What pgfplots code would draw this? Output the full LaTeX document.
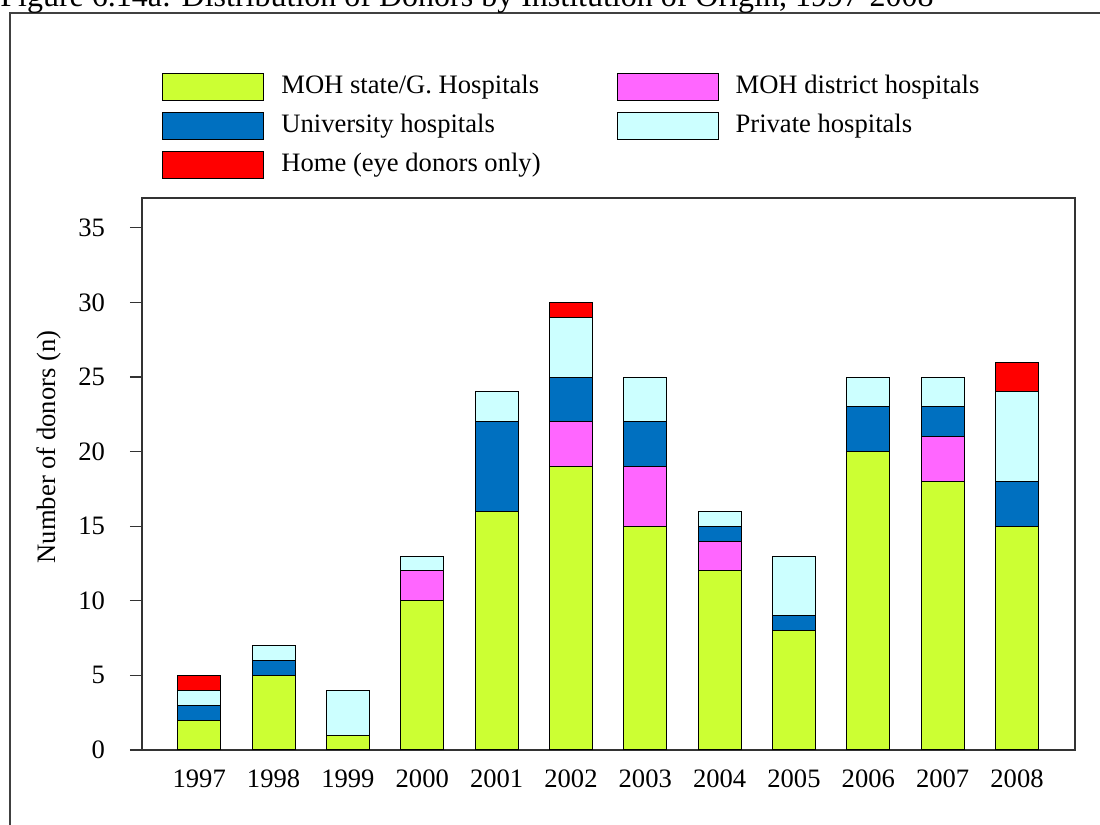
\documentclass[border=0pt]{standalone}
\usepackage{fontspec}
\setmainfont{Liberation Serif}
\usepackage{pgfplots}
\pgfplotsset{compat=1.18}
\definecolor{cGreen}{HTML}{CCFF33}
\definecolor{cPink}{HTML}{FF66FF}
\definecolor{cBlue}{HTML}{0070C0}
\definecolor{cCyan}{HTML}{CCFFFF}
\definecolor{cRed}{HTML}{FF0000}
\newcommand{\fs}{\fontsize{13.3}{16}\selectfont}
\begin{document}
\begin{tikzpicture}
\useasboundingbox (0pt,0pt) rectangle (550pt,412.5pt);
\begin{scope}[overlay]
\clip (0pt,0pt) rectangle (550pt,412.5pt);
\draw[line width=0.8pt, black!75] (5pt,-20pt) rectangle (600pt,406pt);
\node[anchor=base west, font=\fontsize{16}{19}\selectfont, inner sep=0] at (0pt,409pt) {Figure 6.14a: Distribution of Donors by Institution of Origin, 1997-2008};
\begin{axis}[
  at={(71pt,37.5pt)}, anchor=south west,
  scale only axis, width=466.5pt, height=276pt,
  ybar stacked, bar width=21.5pt,
  xmin=-0.77, xmax=11.78, ymin=0, ymax=37,
  xtick={0,...,11},
  xticklabels={1997,1998,1999,2000,2001,2002,2003,2004,2005,2006,2007,2008},
  xtick style={draw=none},
  ytick={0,5,...,35},
  ytick pos=left, tick align=outside, major tick length=6pt,
  ytick style={line width=0.6pt, black!80},
  axis line style={line width=0.7pt, black!80},
  /pgf/number format/assume math mode=true,
  ticklabel style={font=\fs},
  xticklabel style={yshift=-0.3pt},
  yticklabel style={xshift=-9pt},
  ylabel={Number of donors (n)},
  ylabel style={font=\fs, at={(axis description cs:-0.0997,0.549)}, anchor=center},
  every axis plot/.append style={draw=black, line width=0.5pt},
  legend columns=2,
  legend style={at={(axis description cs:0.0214,1.23)}, anchor=north west,
    draw=none, fill=none, inner sep=0pt, font=\fs,
    /tikz/every even column/.append style={column sep=36pt},
    /tikz/every odd column/.append style={column sep=6.5pt},
    row sep=4pt,
    nodes={inner sep=2pt, text height=9pt, text depth=2.5pt}},
  legend cell align=left,
  legend image code/.code={\draw[#1] (0pt,-6.75pt) rectangle (50.5pt,6.75pt);},
]
\addplot[fill=cGreen] coordinates {(0,2) (1,5) (2,1) (3,10) (4,16) (5,19) (6,15) (7,12) (8,8) (9,20) (10,18) (11,15)};
\addlegendentry{MOH state/G. Hospitals}
\addplot[fill=cPink] coordinates {(0,0) (1,0) (2,0) (3,2) (4,0) (5,3) (6,4) (7,2) (8,0) (9,0) (10,3) (11,0)};
\addlegendentry{MOH district hospitals}
\addplot[fill=cBlue] coordinates {(0,1) (1,1) (2,0) (3,0) (4,6) (5,3) (6,3) (7,1) (8,1) (9,3) (10,2) (11,3)};
\addlegendentry{University hospitals}
\addplot[fill=cCyan] coordinates {(0,1) (1,1) (2,3) (3,1) (4,2) (5,4) (6,3) (7,1) (8,4) (9,2) (10,2) (11,6)};
\addlegendentry{Private hospitals}
\addplot[fill=cRed] coordinates {(0,1) (1,0) (2,0) (3,0) (4,0) (5,1) (6,0) (7,0) (8,0) (9,0) (10,0) (11,2)};
\addlegendentry{Home (eye donors only)}
\end{axis}
\end{scope}
\end{tikzpicture}
\end{document}
